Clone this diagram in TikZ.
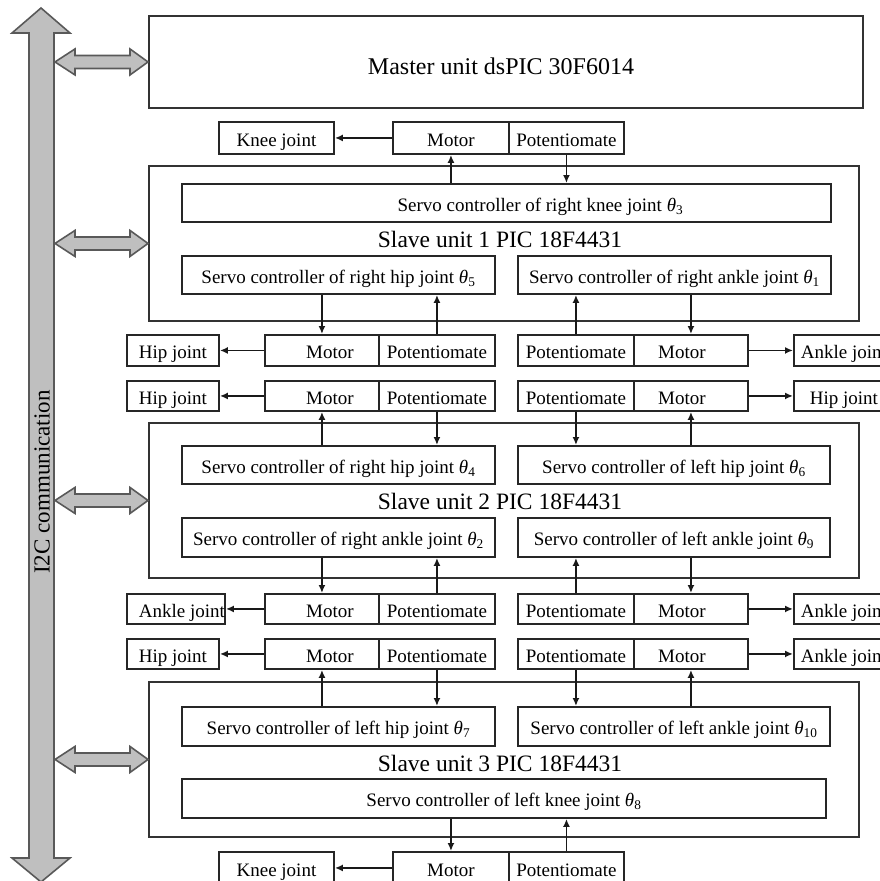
\documentclass[tikz,border=0pt]{standalone}
\usepackage{fontspec}
\setmainfont{Liberation Serif}
\usetikzlibrary{arrows.meta,calc}
\newcommand\mkbox[6]{\node[bx, minimum width=#4pt, minimum height=#5pt] (#1) at (#2,#3) {#6};}
\newcommand\thsub[1]{{\itshape θ}\textsubscript{#1}}
\newcommand\busarr[1]{\draw[busfill] (#1.west) -- ++(-18,-13) -- ++(0,6.5) -- ++(-55,0) -- ++(0,-6.5) -- ++(-20,13) -- ++(20,13) -- ++(0,-6.5) -- ++(55,0) -- ++(0,6.5) -- cycle;}
\begin{document}
\begin{tikzpicture}[x=1pt,y=-1pt,
  bx/.style={draw=black!85, line width=1.9pt, inner sep=0pt, anchor=north west,
    font=\fontsize{19}{19}\selectfont, text height=17pt, text depth=0pt},
  big/.style={draw=black!80, line width=1.9pt, inner sep=0pt, anchor=north west},
  conn/.style={draw=black!90, line width=1.6pt, -{Latex[length=8pt,width=7pt]}},
  busfill/.style={draw=black!65, line width=1.6pt, fill=black!25, line join=miter},
  lbl/.style={font=\fontsize{23.5}{23.5}\selectfont, inner sep=0pt}]
\useasboundingbox (0,0) rectangle (880,881);
\clip (0,0) rectangle (880,881);
% bus
\draw[busfill] (29,33) -- (12,33) -- (41,8) -- (70,33) -- (54,33) -- (54,858) -- (70,858) -- (41,882) -- (12,858) -- (29,858) -- cycle;
\node[lbl, rotate=90, font=\fontsize{23}{23}\selectfont] (bus) at (42,482) {I2C communication};
% big boxes
\node[big, minimum width=714pt, minimum height=92pt] (master) at (148,15) {};
\node[lbl, font=\fontsize{24}{24}\selectfont] (mastert) at (501,66) {Master unit dsPIC 30F6014};
\node[big, minimum width=710pt, minimum height=155pt] (s1) at (148,165) {};
\node[big, minimum width=710pt, minimum height=155pt] (s2) at (148,422) {};
\node[big, minimum width=710pt, minimum height=155pt] (s3) at (148,681) {};
\node[lbl] (s1t) at (500,239) {Slave unit 1 PIC 18F4431};
\node[lbl] (s2t) at (500,501) {Slave unit 2 PIC 18F4431};
\node[lbl] (s3t) at (500,763) {Slave unit 3 PIC 18F4431};
\busarr{master}
\busarr{s1}
\busarr{s2}
\busarr{s3}
% servo controllers
\mkbox{rk}{181}{183}{649}{38}{\hspace*{68pt}Servo controller of right knee joint \thsub{3}}
\mkbox{s1rh}{181}{255}{313}{38}{Servo controller of right hip joint \thsub{5}}
\mkbox{s1ra}{517}{255}{313}{38}{Servo controller of right ankle joint \thsub{1}}
\mkbox{s2rh}{181}{445}{313}{38}{Servo controller of right hip joint \thsub{4}}
\mkbox{s2lh}{517}{445}{312}{38}{Servo controller of left hip joint \thsub{6}}
\mkbox{s2ra}{181}{517}{313}{39}{Servo controller of right ankle joint \thsub{2}}
\mkbox{s2la}{517}{517}{312}{39}{Servo controller of left ankle joint \thsub{9}}
\mkbox{s3lh}{181}{706}{313}{39}{Servo controller of left hip joint \thsub{7}}
\mkbox{s3la}{517}{706}{312}{39}{Servo controller of left ankle joint \thsub{10}}
\mkbox{lk}{181}{778}{644}{39}{Servo controller of left knee joint \thsub{8}}
% top row
\mkbox{knee0}{218}{121}{115}{32}{Knee joint}
\mkbox{mot0}{392}{121}{116}{32}{Motor}
\mkbox{pot0}{508}{121}{115}{32}{Potentiomate}
% row 2
\mkbox{hj1}{126}{334}{92}{31}{Hip joint}
\mkbox{m1}{264}{334}{114}{31}{\hspace*{16pt}Motor}
\mkbox{p1}{378}{334}{116}{31}{Potentiomate}
\mkbox{p2}{517}{334}{116}{31}{Potentiomate}
\mkbox{m2}{633}{334}{114}{31}{Motor\hspace*{18pt}}
\mkbox{aj2}{793}{334}{100}{31}{Ankle joint}
% row 3
\mkbox{hj3}{126}{380}{92}{30}{Hip joint}
\mkbox{m3}{264}{380}{114}{30}{\hspace*{16pt}Motor}
\mkbox{p3}{378}{380}{116}{30}{Potentiomate}
\mkbox{p4}{517}{380}{116}{30}{Potentiomate}
\mkbox{m4}{633}{380}{114}{30}{Motor\hspace*{18pt}}
\mkbox{hj4}{793}{380}{100}{30}{Hip joint}
% row 4
\mkbox{aj5}{126}{593}{92}{30}{\hspace*{12pt}Ankle joint}
\mkbox{m5}{264}{593}{114}{30}{\hspace*{16pt}Motor}
\mkbox{p5}{378}{593}{116}{30}{Potentiomate}
\mkbox{p6}{517}{593}{116}{30}{Potentiomate}
\mkbox{m6}{633}{593}{114}{30}{Motor\hspace*{18pt}}
\mkbox{aj6}{793}{593}{100}{30}{Ankle joint}
% row 5
\mkbox{hj7}{126}{638}{92}{30}{Hip joint}
\mkbox{m7}{264}{638}{114}{30}{\hspace*{16pt}Motor}
\mkbox{p7}{378}{638}{116}{30}{Potentiomate}
\mkbox{p8}{517}{638}{116}{30}{Potentiomate}
\mkbox{m8}{633}{638}{114}{30}{Motor\hspace*{18pt}}
\mkbox{aj8}{793}{638}{100}{30}{Ankle joint}
% bottom row
\mkbox{knee9}{218}{851}{115}{32}{Knee joint}
\mkbox{m9}{392}{851}{116}{32}{Motor}
\mkbox{p9}{508}{851}{115}{32}{Potentiomate}
% connectors top
\draw[conn] (mot0.west) -- (knee0.east);
\draw[conn] (rk.north -| mot0.south) -- (mot0.south);
\draw[conn] (pot0.south) -- (pot0.south |- rk.north);
% row 2
\draw[conn] (s1rh.south -| m1.north) -- (m1.north);
\draw[conn] (p1.north) -- (p1.north |- s1rh.south);
\draw[conn] (p2.north) -- (p2.north |- s1ra.south);
\draw[conn] (s1ra.south -| m2.north) -- (m2.north);
\draw[conn] (m1.west) -- (hj1.east);
\draw[conn] (m2.east) -- (aj2.west);
% row 3
\draw[conn] (s2rh.north -| m3.south) -- (m3.south);
\draw[conn] (p3.south) -- (p3.south |- s2rh.north);
\draw[conn] (p4.south) -- (p4.south |- s2lh.north);
\draw[conn] (s2lh.north -| m4.south) -- (m4.south);
\draw[conn] (m3.west) -- (hj3.east);
\draw[conn] (m4.east) -- (hj4.west);
% row 4
\draw[conn] (s2ra.south -| m5.north) -- (m5.north);
\draw[conn] (p5.north) -- (p5.north |- s2ra.south);
\draw[conn] (p6.north) -- (p6.north |- s2la.south);
\draw[conn] (s2la.south -| m6.north) -- (m6.north);
\draw[conn] (m5.west) -- (aj5.east);
\draw[conn] (m6.east) -- (aj6.west);
% row 5
\draw[conn] (s3lh.north -| m7.south) -- (m7.south);
\draw[conn] (p7.south) -- (p7.south |- s3lh.north);
\draw[conn] (p8.south) -- (p8.south |- s3la.north);
\draw[conn] (s3la.north -| m8.south) -- (m8.south);
\draw[conn] (m7.west) -- (hj7.east);
\draw[conn] (m8.east) -- (aj8.west);
% bottom
\draw[conn] (lk.south -| m9.north) -- (m9.north);
\draw[conn] (p9.north) -- (p9.north |- lk.south);
\draw[conn] (m9.west) -- (knee9.east);
\end{tikzpicture}
\end{document}
